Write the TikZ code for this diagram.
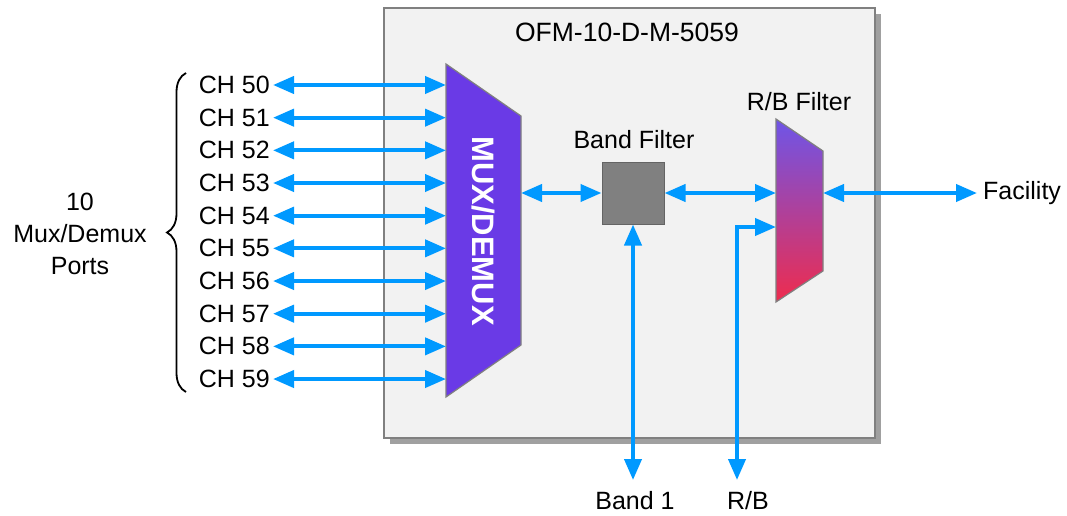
\documentclass[tikz,border=0pt]{standalone}
\usepackage{fontspec}
\setmainfont{Liberation Sans}
\usetikzlibrary{arrows.meta,decorations.pathreplacing}
\definecolor{lineblue}{RGB}{0,153,255}
\definecolor{boxfill}{RGB}{242,242,242}
\definecolor{boxedge}{RGB}{128,128,128}
\definecolor{shadowgray}{RGB}{160,160,160}
\definecolor{muxfill}{RGB}{106,58,230}
\definecolor{bffill}{RGB}{128,128,128}
\definecolor{bfedge}{RGB}{100,100,100}
\definecolor{rbtop}{RGB}{110,85,232}
\definecolor{rbmid}{RGB}{195,75,184}
\definecolor{rbbot}{RGB}{238,44,78}
\begin{document}
\begin{tikzpicture}[x=1pt,y=-1pt,
  conn/.style={draw=lineblue, line width=4pt, {Triangle[length=21pt,width=17pt]}-{Triangle[length=21pt,width=17pt]}},
  lbl/.style={font=\fontsize{25}{32}\selectfont, inner sep=0pt, text=black},
  shapeedge/.style={draw=boxedge, line width=1.2pt},
]
\useasboundingbox (0,0) rectangle (1067,516);

% outer module box with shadow
\fill[shadowgray] (390,14) rectangle (881,444);
\draw[draw=boxedge, fill=boxfill, line width=1.5pt] (384,8) rectangle (875,438);
\node[lbl, font=\fontsize{26.5}{32}\selectfont] (title) at (627,32) {OFM-10-D-M-5059};

% MUX/DEMUX trapezoid
\filldraw[fill=muxfill, shapeedge] (446,64) -- (521,116) -- (521,345) -- (446,397) -- cycle;
\node[font=\fontsize{31}{31}\selectfont\bfseries, text=white, rotate=-90, inner sep=0pt] (muxtext) at (483,231) {MUX/DEMUX};

% channel ports
\foreach \i in {0,...,9} {
  \pgfmathsetmacro\yy{85+\i*32.67}
  \node[lbl, anchor=east] (ch\i) at (270,\yy) {CH 5\i};
  \coordinate (mx\i) at (446,\yy);
  \draw[conn] ([xshift=3pt]ch\i.east) -- (mx\i);
}

% brace and label
\draw[line width=1.8pt, decorate, decoration={brace, amplitude=19pt}] (186,392) -- (186,73);
\node[lbl, align=center] (ports) at (80,234) {10\\Mux/Demux\\Ports};

% band filter
\node[draw=bfedge, fill=bffill, line width=1pt, minimum size=62pt, inner sep=0pt] (bf) at (633,193) {};
\node[lbl] (bflabel) at (634,140) {Band Filter};

% R/B filter
\shade[top color=rbtop, middle color=rbmid, bottom color=rbbot] (776,119) -- (823,151) -- (823,271) -- (776,302) -- cycle;
\draw[shapeedge] (776,119) -- (823,151) -- (823,271) -- (776,302) -- cycle;
\node[lbl] (rblabel) at (799,102) {R/B Filter};

% ports on shapes
\coordinate (muxout) at (521,193);
\coordinate (rbin) at (776,193);
\coordinate (rbin2) at (776,227);
\coordinate (rbout) at (823,193);
\coordinate (b1end) at (633,480);
\coordinate (rbend) at (737,480);

% external labels
\node[lbl, anchor=west, inner xsep=6pt] (fac) at (977,193) {Facility};
\node[lbl] (b1) at (635,501) {Band 1};
\node[lbl] (rb) at (748,501) {R/B};

% connectors
\draw[conn] (muxout) -- (bf.west);
\draw[conn] (bf.east) -- (rbin);
\draw[conn] (rbout) -- (fac.west);
\draw[conn] (bf.south) -- (b1end);
\draw[conn] (rbend) |- (rbin2);
\end{tikzpicture}
\end{document}
